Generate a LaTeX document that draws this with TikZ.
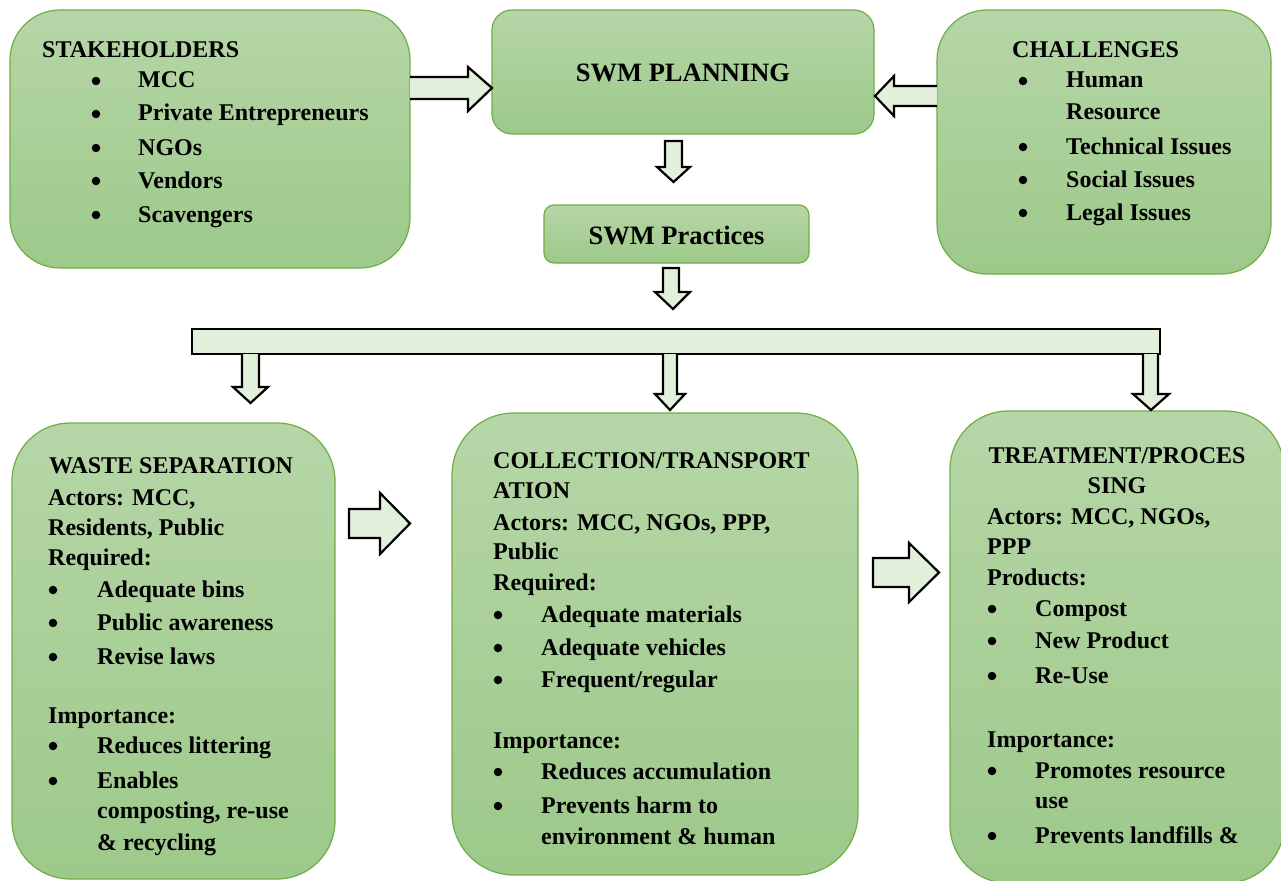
\documentclass[tikz,border=0pt]{standalone}
\usepackage{fontspec}
\setmainfont{Liberation Serif}
\definecolor{gtop}{RGB}{182,214,167}
\definecolor{gbot}{RGB}{157,201,138}
\definecolor{gborder}{RGB}{112,173,71}
\definecolor{afill}{RGB}{226,239,218}
\tikzset{
  box/.style={draw=gborder, line width=1.2pt, top color=gtop, bottom color=gbot, rounded corners=#1},
  blk/.style={draw=black, line width=2.2pt, fill=afill, line join=miter},
  txt/.style={font=\fontsize{24}{28}\bfseries\selectfont, inner sep=0pt, anchor=base west, text=black},
  ctxt/.style={font=\fontsize{24}{28}\bfseries\selectfont, inner sep=0pt, anchor=base, text=black},
  big/.style={font=\fontsize{26.5}{30}\bfseries\selectfont, inner sep=0pt, anchor=base, text=black},
  bul/.style={circle, fill=black, inner sep=0pt, minimum size=8.5pt, yshift=7pt}
}
\begin{document}
\begin{tikzpicture}[x=1pt,y=-1pt]
\useasboundingbox (0,0) rectangle (1281,880);
\clip (0,0) rectangle (1281,880);
% boxes
\draw[box=50] (10,10) rectangle (410,268);
\draw[box=20] (492,10) rectangle (874,134);
\draw[box=50] (937,10) rectangle (1271,274);
\draw[box=10] (544,205) rectangle (809,263);
\draw[blk] (192,329) rectangle (1160,354);
\draw[box=58] (12,423) rectangle (335,879);
\draw[box=62] (452,413) rectangle (858,875);
\draw[box=58] (950,411) rectangle (1284,883);

% block arrows
% stakeholders -> planning
\draw[blk] (410,77) -- (468,77) -- (468,67) -- (492,88) -- (468,111) -- (468,99) -- (410,99);
% challenges -> planning
\draw[blk] (937,86) -- (894,86) -- (894,76) -- (875,96) -- (894,116) -- (894,106) -- (937,106);
% planning -> practices
\draw[blk] (665,141) -- (682,141) -- (682,167) -- (690,167) -- (673.5,182) -- (657,167) -- (665,167) -- cycle;
% practices -> bar
\draw[blk] (663,268) -- (679,268) -- (679,292) -- (690,292) -- (673,309) -- (655,292) -- (663,292) -- cycle;
% bar -> waste
\draw[blk] (242,354) -- (242,387) -- (233,387) -- (250.5,403) -- (268,387) -- (259,387) -- (259,354);
% bar -> collection
\draw[blk] (663,354) -- (663,394) -- (655,394) -- (670,410) -- (685,394) -- (677,394) -- (677,354);
% bar -> treatment
\draw[blk] (1143,354) -- (1143,394) -- (1133,394) -- (1151,410) -- (1169,394) -- (1158,394) -- (1158,354);
% waste -> collection
\draw[blk] (349,509) -- (380,509) -- (380,493) -- (410,523.5) -- (380,554) -- (380,538) -- (349,538) -- cycle;
% collection -> treatment
\draw[blk] (873,558) -- (909,558) -- (909,543) -- (939,572.5) -- (909,602) -- (909,587) -- (873,587) -- cycle;

% Stakeholders
\node[txt] (s0) at (42,58) {STAKEHOLDERS};
\foreach \yy/\tt [count=\i] in {88/MCC,121/Private Entrepreneurs,155/NGOs,188/Vendors,222/Scavengers}{
  \node[bul] (sb\i) at (96,\yy) {};
  \node[txt] (st\i) at (138,\yy) {\tt};
}
% Planning / Practices
\node[big] (plan) at (683,82) {SWM PLANNING};
\node[big] (prac) at (676.5,244) {SWM Practices};
% Challenges
\node[txt] (c0) at (1012,58) {CHALLENGES};
\foreach \yy [count=\i] in {88,154,187,220}{\node[bul] (cb\i) at (1023,\yy) {};}
\node[txt] (c1) at (1066,88) {Human};
\node[txt] (c2) at (1066,120) {Resource};
\node[txt] (c3) at (1066,154) {Technical Issues};
\node[txt] (c4) at (1066,187) {Social Issues};
\node[txt] (c5) at (1066,220) {Legal Issues};

% Waste separation
\node[txt] (w0) at (49,473) {WASTE SEPARATION};
\node[txt] (w1) at (48,505) {Actors: MCC,};
\node[txt] (w2) at (48,535) {Residents, Public};
\node[txt] (w3) at (48,565) {Required:};
\node[txt] (w4) at (48,723) {Importance:};
\foreach \yy [count=\i] in {597,630,664,753,788}{\node[bul] (wb\i) at (53,\yy) {};}
\node[txt] (wt1) at (97,597) {Adequate bins};
\node[txt] (wt2) at (97,630) {Public awareness};
\node[txt] (wt3) at (97,664) {Revise laws};
\node[txt] (wt4) at (97,753) {Reduces littering};
\node[txt] (wt5) at (97,788) {Enables};
\node[txt] (wt6) at (97,818) {composting, re-use};
\node[txt] (wt7) at (97,850) {\& recycling};

% Collection
\node[txt] (k0) at (493,468) {COLLECTION/TRANSPORT};
\node[txt] (k1) at (493,498) {ATION};
\node[txt] (k2) at (493,530) {Actors: MCC, NGOs, PPP,};
\node[txt] (k3) at (493,559) {Public};
\node[txt] (k4) at (493,590) {Required:};
\node[txt] (k5) at (493,748) {Importance:};
\foreach \yy [count=\i] in {622,655,687,779,813}{\node[bul] (kb\i) at (498,\yy) {};}
\node[txt] (kt1) at (541,622) {Adequate materials};
\node[txt] (kt2) at (541,655) {Adequate vehicles};
\node[txt] (kt3) at (541,687) {Frequent/regular};
\node[txt] (kt4) at (541,779) {Reduces accumulation};
\node[txt] (kt5) at (541,813) {Prevents harm to};
\node[txt] (kt6) at (541,844) {environment \& human};

% Treatment
\node[ctxt] (t0) at (1117,463) {TREATMENT/PROCES};
\node[ctxt] (t1) at (1117,493) {SING};
\node[txt] (t2) at (987,524) {Actors: MCC, NGOs,};
\node[txt] (t3) at (987,554) {PPP};
\node[txt] (t4) at (987,585) {Products:};
\node[txt] (t5) at (987,747) {Importance:};
\foreach \yy [count=\i] in {616,648,683,778,843}{\node[bul] (tb\i) at (992,\yy) {};}
\node[txt] (tt1) at (1035,616) {Compost};
\node[txt] (tt2) at (1035,648) {New Product};
\node[txt] (tt3) at (1035,683) {Re-Use};
\node[txt] (tt4) at (1035,778) {Promotes resource};
\node[txt] (tt5) at (1035,808) {use};
\node[txt] (tt6) at (1035,843) {Prevents landfills \&};
\end{tikzpicture}
\end{document}
